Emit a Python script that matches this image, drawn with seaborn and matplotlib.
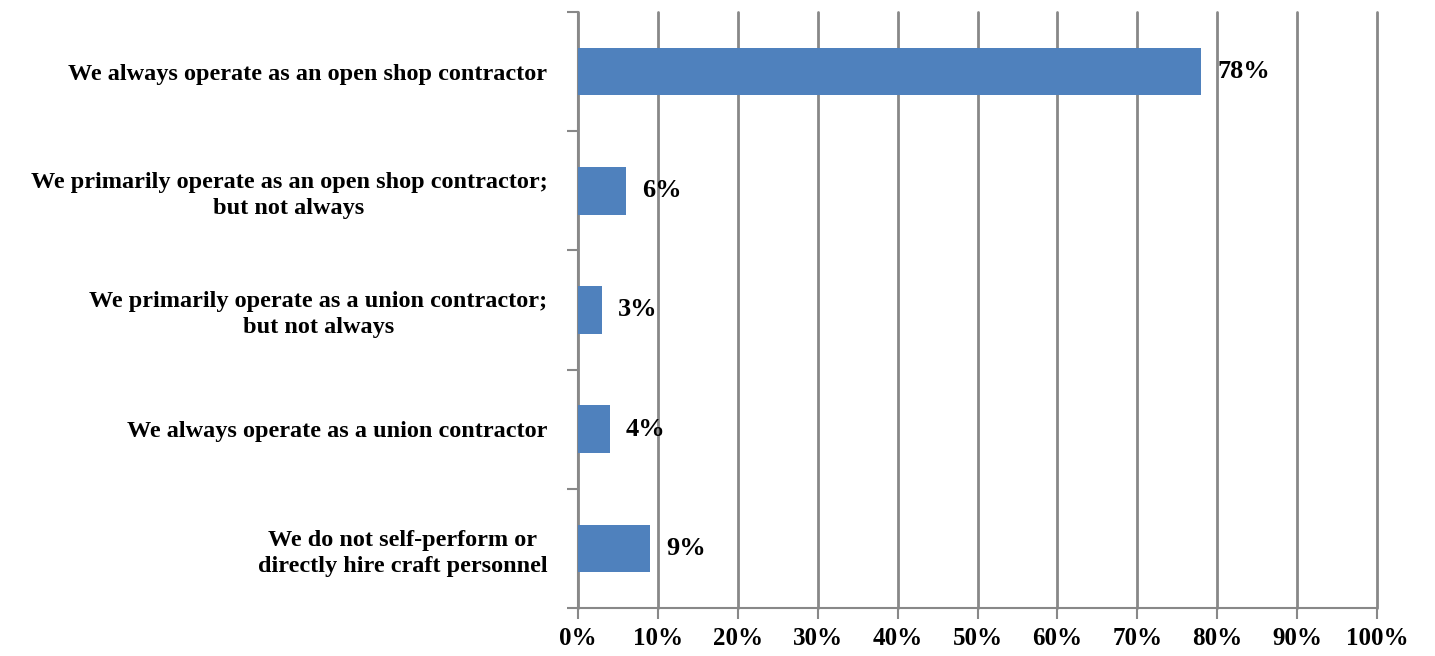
import matplotlib
matplotlib.use("Agg")
import matplotlib.pyplot as plt
import seaborn as sns
import pandas as pd
import numpy as np

categories = [
    "We always operate as an open shop contractor",
    "We primarily operate as an open shop contractor;\nbut not always",
    "We primarily operate as a union contractor;\nbut not always",
    "We always operate as a union contractor",
    "We do not self-perform or\ndirectly hire craft personnel",
]
values = [78, 6, 3, 4, 9]
xticks = [0, 10, 20, 30, 40, 50, 60, 70, 80, 90, 100]
xtick_labels = [f"{t}%" for t in xticks]

sns.set_theme(style="white")
plt.rcParams['font.family'] = ['Liberation Serif', 'DejaVu Serif']
plt.rcParams['text.color'] = 'black'
plt.rcParams['xtick.labelcolor'] = 'black'
plt.rcParams['ytick.labelcolor'] = 'black'

df = pd.DataFrame({"cat": categories, "val": values})

fig = plt.figure(figsize=(14.35, 6.56), dpi=100)
ax = fig.add_axes([578/1435, 1-608/656, (1377-578)/1435, (608-12)/656])

sns.barplot(data=df, y="cat", x="val", orient="h", color="#4F81BD",
            width=0.4, saturation=1, linewidth=0, ax=ax, zorder=3)

ax.set_xlim(0, 100)
ax.set_ylim(len(categories)-0.5, -0.5)
ax.set_xticks(xticks)
ax.set_xticklabels(xtick_labels, fontsize=18, fontweight='bold')
ax.set_yticks(range(len(categories)))
ax.set_yticklabels(categories, fontsize=17.5, fontweight='bold',
                   multialignment='center', linespacing=1.3)
ax.set_yticks(np.arange(-0.5, len(categories), 1), minor=True)
ax.tick_params(axis='y', which='major', length=0, pad=22)
ax.tick_params(axis='y', which='minor', length=8, width=1.5, color='#888888', direction='out', left=True)
ax.tick_params(axis='x', which='major', length=8, width=1.5, color='#888888', direction='out', bottom=True, pad=6)
ax.set_xlabel("")
ax.set_ylabel("")

ax.grid(axis='x', color='#888888', linewidth=2, zorder=0)
for gl in ax.get_xgridlines():
    gl.set_clip_on(False)
ax.set_axisbelow(True)
for s in ['top', 'right']:
    ax.spines[s].set_visible(False)
for s in ['left', 'bottom']:
    ax.spines[s].set_color('#888888')
    ax.spines[s].set_linewidth(1.5)

for i, v in enumerate(values):
    ax.text(v + 2, i, f"{v}%", va='center', ha='left', fontsize=19,
            fontweight='bold', color='black')

fig.savefig("out.png", dpi=100)
